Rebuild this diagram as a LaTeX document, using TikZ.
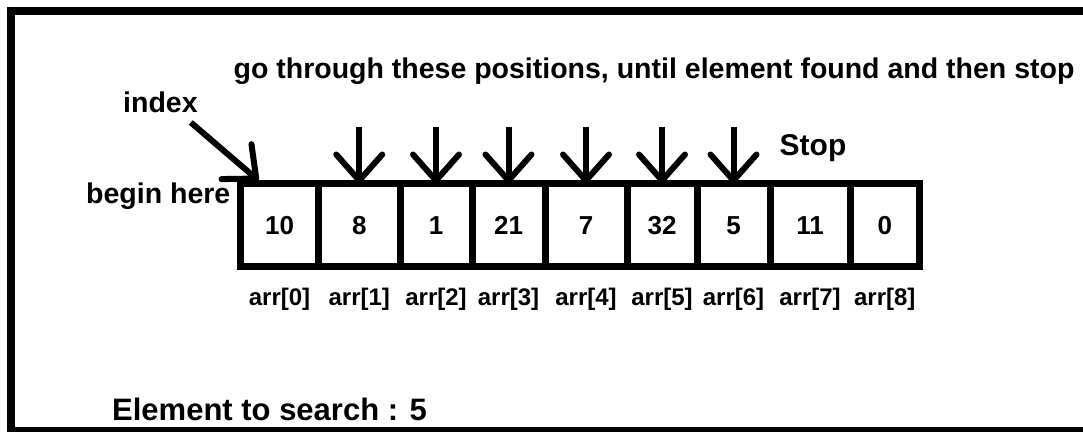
\documentclass[tikz,border=0pt]{standalone}
\usepackage{fontspec}
\setmainfont{Liberation Sans}
\usetikzlibrary{positioning,arrows.meta}

\begin{document}
\begin{tikzpicture}[x=1pt,y=-1pt,>={Straight Barb[length=26pt,width=46pt,round]},
  frame/.style={line width=8pt},
  cell/.style={draw,line width=7pt,minimum height=83pt,inner sep=0pt,outer sep=0pt,text height=18pt,text depth=0pt,font=\fontsize{26}{30}\selectfont\bfseries},
  txt/.style={inner sep=0pt,font=\fontsize{28.5}{34}\selectfont\bfseries},
  arrlbl/.style={inner sep=0pt,font=\fontsize{24}{28}\selectfont\bfseries},
  ptr/.style={->,line width=6pt}]
  \useasboundingbox (0,0) rectangle (1083,431);
  \draw[frame] (1090,11) -- (11,11) -- (11,431) -- (1090,431);
  % the array
  \node[cell,minimum width=78pt] (c0) at (279.5,225) {10};
  \node[cell,minimum width=81.5pt,right=0pt of c0] (c1) {8};
  \node[cell,minimum width=72pt,right=0pt of c1] (c2) {1};
  \node[cell,minimum width=73pt,right=0pt of c2] (c3) {21};
  \node[cell,minimum width=82pt,right=0pt of c3] (c4) {7};
  \node[cell,minimum width=70pt,right=0pt of c4] (c5) {32};
  \node[cell,minimum width=73pt,right=0pt of c5] (c6) {5};
  \node[cell,minimum width=80pt,right=0pt of c6] (c7) {11};
  \node[cell,minimum width=69.5pt,right=0pt of c7] (c8) {0};
  % indices under the cells
  \node[arrlbl,below=21pt of c0] (a0) {arr[0]};
  \node[arrlbl,below=21pt of c1] (a1) {arr[1]};
  \node[arrlbl,below=21pt of c2] (a2) {arr[2]};
  \node[arrlbl,below=21pt of c3] (a3) {arr[3]};
  \node[arrlbl,below=21pt of c4] (a4) {arr[4]};
  \node[arrlbl,below=21pt of c5] (a5) {arr[5]};
  \node[arrlbl,below=21pt of c6] (a6) {arr[6]};
  \node[arrlbl,below=21pt of c7] (a7) {arr[7]};
  \node[arrlbl,below=21pt of c8] (a8) {arr[8]};
  % texts
  \node[txt,anchor=base] (title) at (654,78) {go through these positions, until element found and then stop};
  \node[txt,anchor=base west] (idx) at (123,112) {index};
  \node[txt,left=10pt of c0.north west,anchor=base east,yshift=-20pt] (beg) {begin here};
  \node[txt,anchor=base,font=\fontsize{30}{34}\selectfont\bfseries] (stop) at (813,155) {Stop};
  \node[txt,anchor=base west,font=\fontsize{31}{36}\selectfont\bfseries] (elem) at (112,420) {Element to search : 5};
  % pointers
  \coordinate (tail) at ([shift={(-7pt,-10pt)}]idx.south east);
  \coordinate (entry) at ([shift={(18pt,3pt)}]c0.north west);
  \draw[ptr] (tail) -- (entry);
  \coordinate (p1) at ([yshift=57pt]c1.north); \coordinate (p2) at ([yshift=57pt]c2.north);
  \coordinate (p3) at ([yshift=57pt]c3.north); \coordinate (p4) at ([yshift=57pt]c4.north);
  \coordinate (p5) at ([yshift=57pt]c5.north); \coordinate (p6) at ([yshift=57pt]c6.north);
  \draw[ptr] (p1)--(c1.north); \draw[ptr] (p2)--(c2.north); \draw[ptr] (p3)--(c3.north);
  \draw[ptr] (p4)--(c4.north); \draw[ptr] (p5)--(c5.north); \draw[ptr] (p6)--(c6.north);
\end{tikzpicture}
\end{document}
